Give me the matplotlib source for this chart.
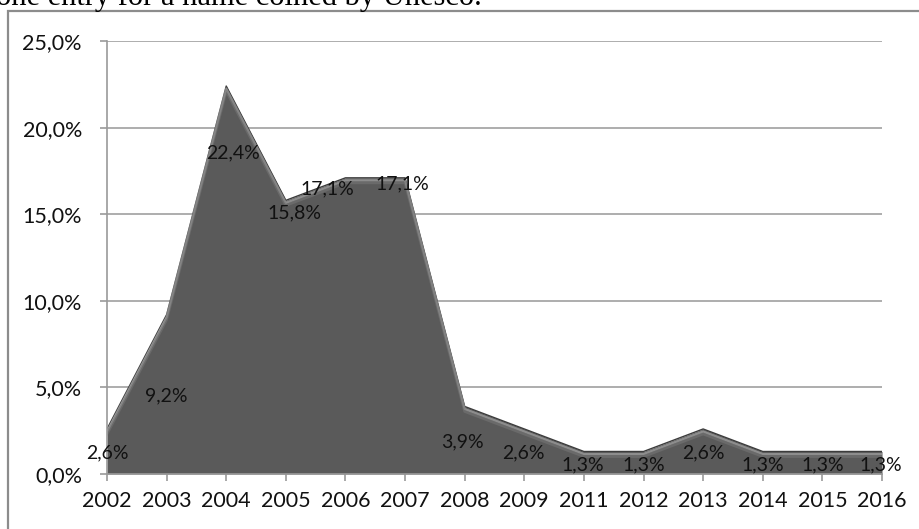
import matplotlib

matplotlib.use('Agg')
import matplotlib.pyplot as plt
import matplotlib.transforms as mtransforms
from matplotlib.patches import Rectangle
from matplotlib.ticker import FuncFormatter

plt.rcParams['font.family'] = ['Lato', 'DejaVu Sans']

# share of entries per year (percent)
years = ['2002', '2003', '2004', '2005', '2006', '2007', '2008',
         '2009', '2011', '2012', '2013', '2014', '2015', '2016']
shares = [2.6, 9.2, 22.4, 15.8, 17.1, 17.1, 3.9,
          2.6, 1.3, 1.3, 2.6, 1.3, 1.3, 1.3]

# label nudges in pixels (right, down) from each point
label_nudge = [(0, 24), (0, 81), (7, 67), (9, 13), (-18, 11), (-3, 6), (-2, 35),
               (-1, 24), (-1, 13), (0, 13), (0, 24), (0, 13), (0, 13), (-1, 13)]


def pct(v, pos=None):
    return '{:.1f}%'.format(v).replace('.', ',')


fig = plt.figure(figsize=(9.2, 5.29), dpi=100, facecolor='w')

# caption line cut at the top of the page
fig.text(-0.004, 1 - 5 / 529, 'one entry for a name coined by Unesco.',
         family='Liberation Serif', fontsize=22, va='baseline', ha='left')

# chart frame
fig.patches.append(Rectangle((8 / 920, -0.2), 1.2, 1.2 - 11 / 529,
                             transform=fig.transFigure, fill=False,
                             edgecolor='#8c8c8c', lw=1.6))

ax = fig.add_axes([107 / 920, 1 - 474 / 529, 775 / 920, 433 / 529])
x = list(range(len(years)))

ax.fill_between(x, shares, 0, color='#5a5a5a', lw=0, zorder=2)
# bevel: dark rim on top plus a light band just under it
ax.plot(x, shares, color='#3c3c3c', lw=1.0, zorder=3)
shift = mtransforms.offset_copy(ax.transData, fig=fig, x=0, y=-2.5, units='dots')
ax.plot(x, shares, color='#b0b0b0', lw=1.6, alpha=0.6, transform=shift, zorder=3)
shift2 = mtransforms.offset_copy(ax.transData, fig=fig, x=0, y=-5, units='dots')
ax.plot(x, shares, color='#7a7a7a', lw=2, alpha=0.5, transform=shift2, zorder=3)

for xi, v, (dx, dy) in zip(x, shares, label_nudge):
    ax.annotate(pct(v), (xi, v), xytext=(dx * 0.72, -dy * 0.72),
                textcoords='offset points', ha='center', va='center',
                fontsize=14, color='#111111', zorder=5)

ax.set_xlim(0, len(years) - 1)
ax.set_ylim(0, 25)
ax.set_xticks(x)
ax.set_xticklabels(years)
ax.set_yticks([0, 5, 10, 15, 20, 25])
ax.yaxis.set_major_formatter(FuncFormatter(pct))

ax.grid(axis='y', color='#a0a0a0', lw=1.2, zorder=1)
ax.set_axisbelow(True)
for side in ['top', 'right']:
    ax.spines[side].set_visible(False)
for side in ['left', 'bottom']:
    ax.spines[side].set_color('#9a9a9a')
    ax.spines[side].set_linewidth(1.2)
    ax.spines[side].set_zorder(4)

ax.tick_params(axis='both', direction='out', length=5, width=1.2,
               color='#9a9a9a', labelsize=15.5, labelcolor='#111111')
ax.tick_params(axis='y', pad=13)
ax.tick_params(axis='x', pad=7)

plt.savefig('out.png', dpi=100, facecolor='w')
